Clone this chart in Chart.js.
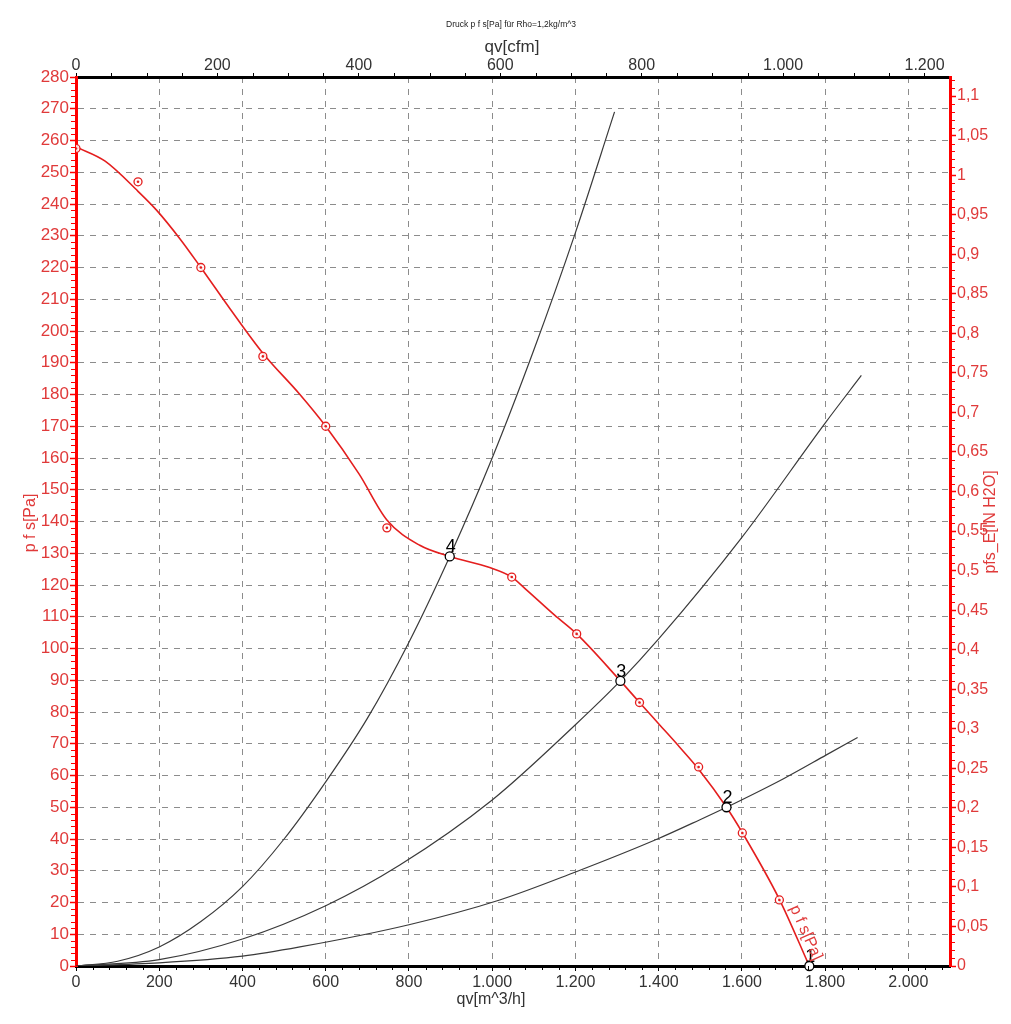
<!DOCTYPE html>
<html>
<head>
<meta charset="utf-8">
<title>Druck p f s</title>
<script src="https://cdn.jsdelivr.net/npm/chart.js@4.4.0/dist/chart.umd.min.js"></script>
<style>
  html, body { margin: 0; padding: 0; background: #fff; }
  #wrap { width: 1011px; height: 1024px; }
</style>
</head>
<body>
<div id="wrap"><canvas id="fanChart"></canvas></div>
<script>
// Ventilatorkennlinie p f s [Pa] über qv [m^3/h]
const curveQv  = [0, 70, 149, 194, 250, 300, 370, 449, 538, 600, 680, 747, 826, 898, 994, 1047, 1083, 1150, 1203, 1308, 1354, 1402, 1450, 1496, 1563, 1601, 1690, 1762];
const curvePfs = [258, 253.5, 244, 238, 229, 220, 207, 193, 180, 170, 155, 140.5, 132.5, 129, 125.5, 122.5, 118.4, 110.5, 104.6, 89.8, 83, 76, 69, 62, 50, 42, 21, 0];

// Messpunkte (rote Kreise)
const measQv  = [0, 149, 300, 449, 600, 747, 1047, 1203, 1354, 1496, 1601, 1690];
const measPfs = [257.5, 247, 220, 192, 170, 138, 122.5, 104.6, 83, 62.7, 41.9, 20.8];

// Anlagenkennlinien (schwarz)
const sys4Qv = [0, 100, 200, 300, 400, 500, 600, 700, 800, 898, 1000, 1100, 1200, 1294];
const sys4P  = [0, 1.5, 6, 14, 25, 40, 58, 78, 102, 129, 160, 194, 231, 269];
const sys3Qv = [0, 200, 400, 600, 778, 1000, 1200, 1308, 1400, 1600, 1800, 1887];
const sys3P  = [0, 2, 8.5, 19, 31.8, 52.3, 76, 89.8, 103, 135, 171, 186];
const sys2Qv = [0, 200, 400, 538, 800, 1018, 1194, 1397, 1498, 1563, 1700, 1803, 1878];
const sys2P  = [0, 1, 3.1, 6, 13, 20.8, 29.3, 40, 46, 50, 59, 66.5, 72];

// Betriebspunkte
const opQv = [1762, 1563, 1308, 898];
const opP  = [0, 50, 89.8, 129];
const opLabels = ['1', '2', '3', '4'];

// Achsenteilung
const qvTicks  = [0, 200, 400, 600, 800, 1000, 1200, 1400, 1600, 1800, 2000];
const cfmTicks = [0, 200, 400, 600, 800, 1000, 1200];
const pfsTicks = [0, 10, 20, 30, 40, 50, 60, 70, 80, 90, 100, 110, 120, 130, 140, 150, 160, 170, 180, 190, 200, 210, 220, 230, 240, 250, 260, 270, 280];
const inTicks  = [0, 0.05, 0.1, 0.15, 0.2, 0.25, 0.3, 0.35, 0.4, 0.45, 0.5, 0.55, 0.6, 0.65, 0.7, 0.75, 0.8, 0.85, 0.9, 0.95, 1, 1.05, 1.1];

const QV_MAX = 2100;
const PFS_MAX = 280;
const CFM = 1.69901;    // m^3/h pro cfm
const INH2O = 249.089;  // Pa pro in H2O

const FONT = "'Liberation Sans', Arial, sans-serif";
const RED = '#ff0000';
const RED_TXT = '#e03a3a';
const GRID = '#8c8c8c';

const pts = (xs, ys) => xs.map((x, i) => ({ x: x, y: ys[i] }));

function fmtThousands(v) {
  return String(Math.round(v)).replace(/\B(?=(\d{3})+(?!\d))/g, '.');
}
function fmtComma(v) {
  return String(Number(v.toFixed(2))).replace('.', ',');
}
function setTicks(list) {
  return s => { s.ticks = list.map(v => ({ value: v })); };
}

const extras = {
  id: 'extras',
  afterDraw(chart) {
    const ctx = chart.ctx;
    const { x, xTop, y, yIn } = chart.scales;
    const a = chart.chartArea;
    ctx.save();

    // Nebenteilstriche
    ctx.lineWidth = 1;
    ctx.strokeStyle = RED;
    ctx.beginPath();
    for (let v = 2; v < PFS_MAX; v += 2) {
      if (v % 10 === 0) continue;
      const py = Math.round(y.getPixelForValue(v)) + 0.5;
      ctx.moveTo(a.left - 5, py); ctx.lineTo(a.left, py);
    }
    for (let v = 0.01; v < yIn.max; v += 0.01) {
      if (Math.abs(v / 0.05 - Math.round(v / 0.05)) < 1e-6) continue;
      const py = Math.round(yIn.getPixelForValue(v)) + 0.5;
      ctx.moveTo(a.right, py); ctx.lineTo(a.right + 5, py);
    }
    ctx.stroke();
    ctx.strokeStyle = '#000';
    ctx.beginPath();
    for (let v = 40; v < QV_MAX; v += 40) {
      if (v % 200 === 0) continue;
      const px = Math.round(x.getPixelForValue(v)) + 0.5;
      ctx.moveTo(px, a.bottom); ctx.lineTo(px, a.bottom + 4);
    }
    for (let v = 50; v < xTop.max; v += 50) {
      if (v % 200 === 0) continue;
      const px = Math.round(xTop.getPixelForValue(v)) + 0.5;
      ctx.moveTo(px, a.top); ctx.lineTo(px, a.top - 4);
    }
    ctx.stroke();

    // Betriebspunkt-Nummern
    ctx.fillStyle = '#000';
    ctx.font = '18px ' + FONT;
    ctx.textAlign = 'center';
    ctx.textBaseline = 'alphabetic';
    opLabels.forEach((t, i) => {
      ctx.fillText(t, x.getPixelForValue(opQv[i]) + 1, y.getPixelForValue(opP[i]) - 4);
    });

    // Kurvenbeschriftung entlang der Kennlinie
    const n = curveQv.length;
    const x1 = x.getPixelForValue(curveQv[n - 2]), y1 = y.getPixelForValue(curvePfs[n - 2]);
    const x2 = x.getPixelForValue(curveQv[n - 1]), y2 = y.getPixelForValue(curvePfs[n - 1]);
    const ang = Math.atan2(y2 - y1, x2 - x1);
    ctx.save();
    ctx.translate(x1 + 6 * Math.sin(ang) + 12 * Math.cos(ang), y1 - 6 * Math.cos(ang) + 12 * Math.sin(ang));
    ctx.rotate(ang);
    ctx.fillStyle = RED_TXT;
    ctx.font = '16px ' + FONT;
    ctx.textAlign = 'left';
    ctx.fillText('p f s[Pa]', 0, 0);
    ctx.restore();

    // Titel
    ctx.textAlign = 'center';
    ctx.textBaseline = 'middle';
    ctx.fillStyle = '#222';
    ctx.font = '8.5px ' + FONT;
    ctx.fillText('Druck p f s[Pa] für Rho=1,2kg/m^3', 511, 25);
    ctx.fillStyle = '#333';
    ctx.font = '17px ' + FONT;
    ctx.fillText('qv[cfm]', 512, 47);
    ctx.font = '16px ' + FONT;
    ctx.fillText('qv[m^3/h]', 491, 1000);

    ctx.fillStyle = RED_TXT;
    ctx.save();
    ctx.translate(31, 523);
    ctx.rotate(-Math.PI / 2);
    ctx.fillText('p f s[Pa]', 0, 0);
    ctx.restore();
    ctx.save();
    ctx.translate(991, 522);
    ctx.rotate(-Math.PI / 2);
    ctx.fillText('pfs_E[IN H2O]', 0, 0);
    ctx.restore();

    ctx.restore();
  }
};

// Chart.js zeichnet Datensatz 0 zuletzt (oben)
new Chart(document.getElementById('fanChart').getContext('2d'), {
  type: 'scatter',
  data: {
    datasets: [
      {
        label: 'Betriebspunkte', data: pts(opQv, opP), showLine: false,
        pointRadius: 4.5, pointBorderColor: '#000', pointBorderWidth: 1.3,
        pointBackgroundColor: '#fff', clip: false
      },
      {
        label: 'Messpunkte Mitte', data: pts(measQv, measPfs), showLine: false,
        pointRadius: 1.3, pointBorderWidth: 0, pointBackgroundColor: '#e41e1e'
      },
      {
        label: 'Messpunkte', data: pts(measQv, measPfs), showLine: false,
        pointRadius: 4, pointBorderColor: '#e41e1e', pointBorderWidth: 1.3,
        pointBackgroundColor: 'rgba(255,255,255,0.85)'
      },
      {
        label: 'p f s[Pa]', data: pts(curveQv, curvePfs), showLine: true,
        borderColor: '#e41e1e', borderWidth: 1.6, pointRadius: 0,
        cubicInterpolationMode: 'monotone'
      },
      {
        label: 'sys4', data: pts(sys4Qv, sys4P), showLine: true,
        borderColor: '#3a3a3a', borderWidth: 1.2, pointRadius: 0,
        cubicInterpolationMode: 'monotone'
      },
      {
        label: 'sys3', data: pts(sys3Qv, sys3P), showLine: true,
        borderColor: '#3a3a3a', borderWidth: 1.2, pointRadius: 0,
        cubicInterpolationMode: 'monotone'
      },
      {
        label: 'sys2', data: pts(sys2Qv, sys2P), showLine: true,
        borderColor: '#3a3a3a', borderWidth: 1.2, pointRadius: 0,
        cubicInterpolationMode: 'monotone'
      }
    ]
  },
  options: {
    responsive: true,
    maintainAspectRatio: false,
    animation: false,
    events: [],
    layout: { padding: 0 },
    plugins: { legend: { display: false }, tooltip: { enabled: false }, title: { display: false } },
    scales: {
      x: {
        type: 'linear', position: 'bottom', min: 0, max: QV_MAX,
        afterBuildTicks: setTicks(qvTicks),
        afterFit: s => { s.height = 58; },
        border: { color: '#000', width: 3, dash: [6, 6] },
        grid: { color: GRID, lineWidth: 1, tickLength: 5, tickColor: '#000', tickWidth: 1 },
        ticks: { color: '#333', padding: 2, maxRotation: 0, font: { size: 16, family: FONT }, callback: v => fmtThousands(v) }
      },
      xTop: {
        type: 'linear', position: 'top', min: 0, max: QV_MAX / CFM,
        afterBuildTicks: setTicks(cfmTicks),
        afterFit: s => { s.height = 77; },
        border: { color: '#000', width: 3 },
        grid: { drawOnChartArea: false, tickLength: 4, tickColor: '#000', tickWidth: 1 },
        ticks: { color: '#333', padding: -2, maxRotation: 0, font: { size: 16, family: FONT }, callback: v => fmtThousands(v) }
      },
      y: {
        type: 'linear', position: 'left', min: 0, max: PFS_MAX,
        afterBuildTicks: setTicks(pfsTicks),
        afterFit: s => { s.width = 76; },
        border: { color: RED, width: 3, dash: [6, 6] },
        grid: { color: GRID, lineWidth: 1, tickLength: 6, tickColor: RED, tickWidth: 1.5 },
        ticks: { color: RED_TXT, padding: 1, font: { size: 17, family: FONT }, callback: v => String(v) }
      },
      yIn: {
        type: 'linear', position: 'right', min: 0, max: PFS_MAX / INH2O,
        afterBuildTicks: setTicks(inTicks),
        afterFit: s => { s.width = 61; },
        border: { color: RED, width: 3 },
        grid: { drawOnChartArea: false, tickLength: 6, tickColor: RED, tickWidth: 1.5 },
        ticks: { color: RED_TXT, padding: 1, font: { size: 16, family: FONT }, callback: v => fmtComma(v) }
      }
    }
  },
  plugins: [extras]
});
</script>
</body>
</html>
